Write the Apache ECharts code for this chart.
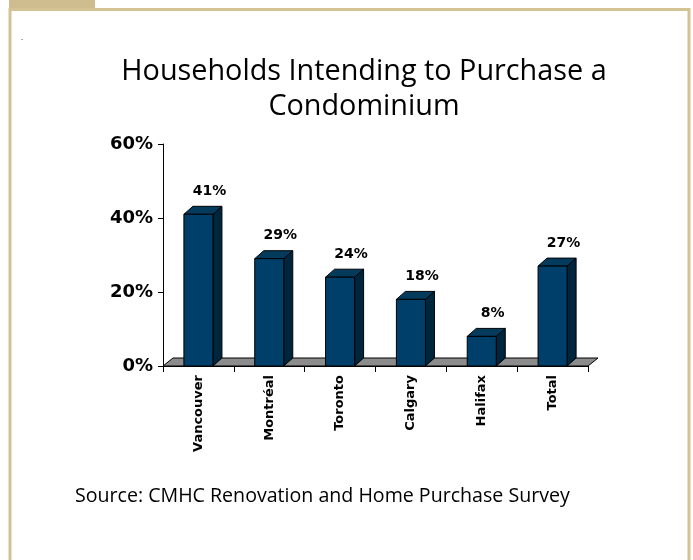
<!DOCTYPE html>
<html><head><meta charset="utf-8">
<script src="https://cdn.jsdelivr.net/npm/echarts@6/dist/echarts.min.js"></script>
<style>html,body{margin:0;padding:0;background:#fff}#c{width:693px;height:560px}</style>
</head><body><div id="c"></div>
<script>
var categories = ['Vancouver', 'Montréal', 'Toronto', 'Calgary', 'Halifax', 'Total'];
var values = [41, 29, 24, 18, 8, 27];
var yTicks = [0, 20, 40, 60];

var BOLD = '"DejaVu Sans", sans-serif';
var REG = '"Open Sans", sans-serif';
var DX = 9, DY = 8;
var chart = echarts.init(document.getElementById('c'), null, {renderer: 'canvas'});

function barItem(params, api) {
  var idx = api.value(0), v = api.value(1);
  var top = api.coord([idx, v]);
  var base = api.coord([idx, 0]);
  var bw = api.size([1, 0])[0] * 0.41;
  var x0 = top[0] - bw / 2, x1 = top[0] + bw / 2;
  var yt = top[1], yb = base[1];
  return {
    type: 'group',
    children: [
      {type: 'polygon', shape: {points: [[x1, yb], [x1 + DX, yb - DY], [x1 + DX, yt - DY], [x1, yt]]},
        style: {fill: '#00263d', stroke: '#000', lineWidth: 1}},
      {type: 'polygon', shape: {points: [[x0, yt], [x1, yt], [x1 + DX, yt - DY], [x0 + DX, yt - DY]]},
        style: {fill: '#043a5c', stroke: '#000', lineWidth: 1}},
      {type: 'rect', shape: {x: x0, y: yt, width: bw, height: yb - yt},
        style: {fill: '#003f69', stroke: '#000', lineWidth: 1}},
      {type: 'text', x: top[0] + 11, y: yt - DY - 8,
        style: {text: v + '%', fill: '#000', font: 'bold 14px ' + BOLD, align: 'center', verticalAlign: 'bottom'}}
    ]
  };
}

function floorItem(params, api) {
  var cs = params.coordSys;
  var yb = cs.y + cs.height, x0 = cs.x, x1 = cs.x + cs.width;
  return {
    type: 'polygon',
    shape: {points: [[x0, yb], [x1, yb], [x1 + DX + 1, yb - DY], [x0 + DX + 1, yb - DY]]},
    style: {fill: '#8c8c8c', stroke: '#000', lineWidth: 1}
  };
}

chart.setOption({
  animation: false,
  backgroundColor: '#fff',
  graphic: [
    {type: 'rect', shape: {x: 9, y: 0, width: 86, height: 8}, style: {fill: '#cfbd8f'}},
    {type: 'rect', shape: {x: 10, y: 9.5, width: 679, height: 600}, style: {fill: 'none', stroke: '#d2c294', lineWidth: 3}},
    {type: 'text', x: 21, y: 34, style: {text: '.', font: '8px ' + REG, fill: '#000'}},
    {type: 'text', x: 364, y: 72, style: {text: 'Households Intending to Purchase a', font: '28.8px ' + REG, fill: '#000', align: 'center', verticalAlign: 'middle'}},
    {type: 'text', x: 364, y: 107, style: {text: 'Condominium', font: '28.8px ' + REG, fill: '#000', align: 'center', verticalAlign: 'middle'}},
    {type: 'text', x: 75, y: 496, style: {text: 'Source: CMHC Renovation and Home Purchase Survey', font: '19.6px ' + REG, fill: '#000', verticalAlign: 'middle'}}
  ],
  grid: {left: 163, right: 105, top: 144, bottom: 194, containLabel: false},
  xAxis: {
    type: 'category', data: categories,
    axisLine: {lineStyle: {color: '#000', width: 1}},
    axisTick: {show: true, length: 6, lineStyle: {color: '#000'}},
    axisLabel: {rotate: 90, margin: 9, color: '#000', fontFamily: BOLD, fontWeight: 'bold', fontSize: 13, interval: 0}
  },
  yAxis: {
    type: 'value', min: yTicks[0], max: yTicks[yTicks.length - 1], interval: 20,
    axisLine: {show: true, lineStyle: {color: '#000', width: 1}},
    axisTick: {show: true, length: 5, lineStyle: {color: '#000'}},
    splitLine: {show: false},
    axisLabel: {formatter: '{value}%', margin: 10, color: '#000', fontFamily: BOLD, fontWeight: 'bold', fontSize: 18}
  },
  series: [
    {type: 'custom', renderItem: floorItem, data: [[0, 0]], z: 1, silent: true},
    {type: 'custom', renderItem: barItem, data: values.map(function (v, i) { return [i, v]; }), z: 3,
      encode: {x: 0, y: 1}}
  ]
});
</script></body></html>
